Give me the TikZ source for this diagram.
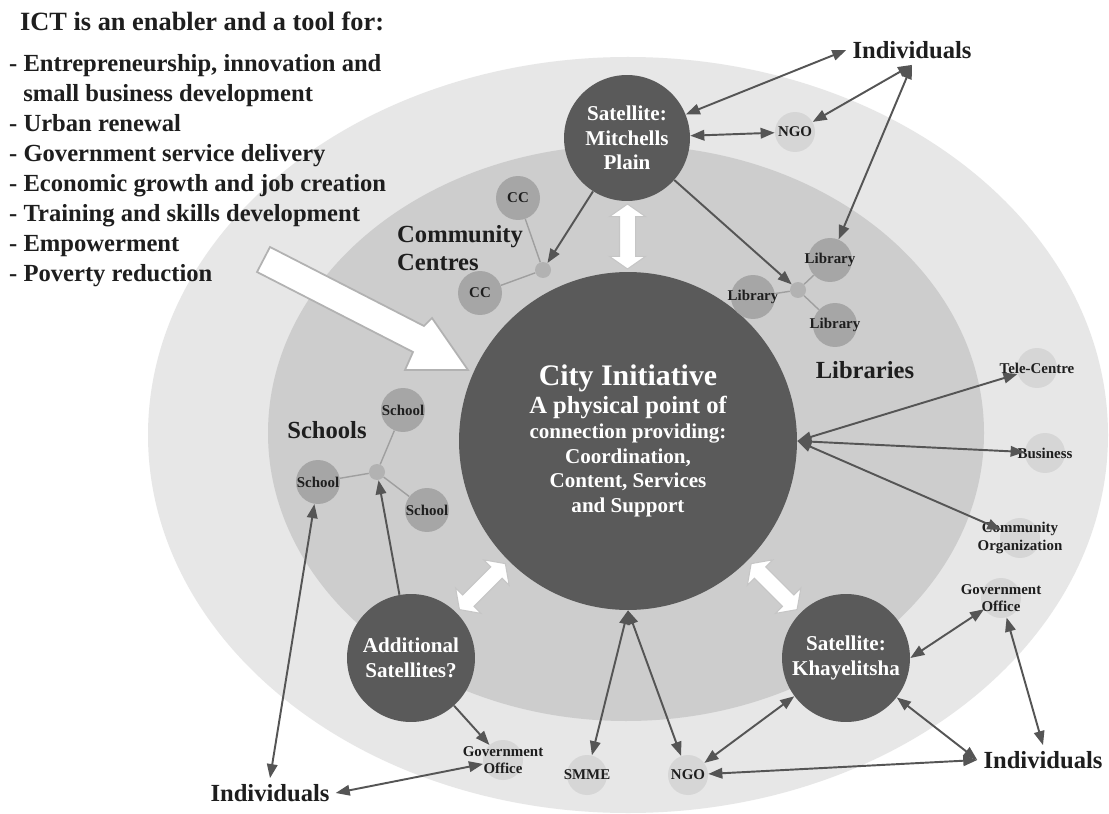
\documentclass[tikz,border=0pt]{standalone}
\usepackage{fontspec}
\setmainfont{Liberation Serif}
\usetikzlibrary{arrows.meta,shapes.arrows,calc}

\definecolor{ringout}{RGB}{231,231,231}
\definecolor{ringin}{RGB}{205,205,205}
\definecolor{discgray}{RGB}{90,90,90}
\definecolor{membergray}{RGB}{166,166,166}
\definecolor{partnergray}{RGB}{214,214,214}
\definecolor{hubgray}{RGB}{178,178,178}
\definecolor{linkgray}{RGB}{85,85,85}
\definecolor{inkgray}{RGB}{30,30,30}

\begin{document}
\begin{tikzpicture}[
        x=0.02cm, y=-0.02cm,
        disc/.style={
            circle,
            fill=discgray,
            text=white,
            inner sep=0pt,
            align=center,
            font=\fontsize{12}{14}\selectfont\bfseries
        },
        member/.style={
            circle,
            fill=membergray,
            minimum size=0.88cm,
            inner sep=0pt
        },
        partner/.style={
            circle,
            fill=partnergray,
            minimum size=0.8cm,
            inner sep=0pt
        },
        hub/.style={
            circle,
            fill=hubgray,
            minimum size=0.32cm,
            inner sep=0pt
        },
        tag/.style={
            text=inkgray,
            align=center,
            font=\fontsize{8.5}{10}\selectfont\bfseries
        },
        group/.style={
            text=inkgray,
            align=left,
            font=\fontsize{14}{16}\selectfont\bfseries
        },
        spoke/.style={
            draw=gray!75,
            line width=0.8pt
        },
        link/.style={
            {Triangle[length=8pt,width=6pt]}-{Triangle[length=8pt,width=6pt]},
            draw=linkgray,
            line width=1.1pt
        },
        feed/.style={
            -{Triangle[length=8pt,width=6pt]},
            draw=linkgray,
            line width=1.1pt
        },
        gate/.style={
            double arrow,
            fill=white,
            draw=gray!45,
            line width=0.6pt,
            minimum height=1.3cm,
            inner xsep=0pt,
            inner ysep=0.15cm,
            double arrow head extend=0.2cm,
            double arrow tip angle=110
        }
    ]

    \useasboundingbox (0,0) rectangle (1109,814);
    \fill[white] (0,0) rectangle (1109,814);

    % rings
    \fill[ringout] (628,435) ellipse [x radius=480, y radius=378];
    \fill[ringin] (626,433) ellipse [x radius=358, y radius=288];

    % heading and list
    \node[anchor=base west, text=inkgray, font=\fontsize{15}{17}\selectfont\bfseries]
        (head) at (14,31) {ICT is an enabler and a tool for:};
    \node[anchor=north west, text=inkgray, align=left,
          font=\fontsize{14}{17.1}\selectfont\bfseries] (list) at (3,48)
        {- Entrepreneurship, innovation and\\
         \hspace*{8pt}small business development\\
         - Urban renewal\\
         - Government service delivery\\
         - Economic growth and job creation\\
         - Training and skills development\\
         - Empowerment\\
         - Poverty reduction};

    % pointer into the centre
    \draw[fill=white, draw=gray!60, line width=1pt]
        (270,247) -- (424,326) -- (432,318) -- (468,370) -- (405,370)
        -- (413,352) -- (257,272) -- cycle;

    % centre and satellites
    \node[disc, minimum size=6.76cm] (city) at (628,441)
        {{\fontsize{17}{22}\selectfont City Initiative}\\[2pt]
         \fontsize{14}{17}\selectfont A physical point of\\
         connection providing:\\
         Coordination,\\
         Content, Services\\
         and Support};
    \node[disc, minimum size=2.52cm] (mitch) at (627,138) {Satellite:\\Mitchells\\Plain};
    \node[disc, minimum size=2.56cm] (addsat) at (411,658) {Additional\\Satellites?};
    \node[disc, minimum size=2.56cm] (khaye) at (846,658) {Satellite:\\Khayelitsha};

    % community centres
    \node[hub] (ccHub) at (543,270) {};
    \node[member, label={[tag]center:CC}] (ccA) at (518,198) {};
    \node[member, label={[tag]center:CC}] (ccB) at (480,293) {};
    \draw[spoke] (ccHub) -- (ccA);
    \draw[spoke] (ccHub) -- (ccB);
    \node[group, anchor=west] (ccName) at (391,248) {Community\\Centres};

    % libraries
    \node[hub] (libHub) at (798,290) {};
    \node[member, label={[tag]center:Library}] (libA) at (830,260) {};
    \node[member, label={[tag]center:Library}] (libB) at (753,297) {};
    \node[member, label={[tag]center:Library}] (libC) at (835,325) {};
    \draw[spoke] (libHub) -- (libA);
    \draw[spoke] (libHub) -- (libB);
    \draw[spoke] (libHub) -- (libC);
    \node[group] (libName) at (865,370) {Libraries};

    % schools
    \node[hub] (schHub) at (377,472) {};
    \node[member, label={[tag]center:School}] (schA) at (403,410) {};
    \node[member, label={[tag]center:School}] (schB) at (318,482) {};
    \node[member, label={[tag]center:School}] (schC) at (427,510) {};
    \draw[spoke] (schHub) -- (schA);
    \draw[spoke] (schHub) -- (schB);
    \draw[spoke] (schHub) -- (schC);
    \node[group] (schName) at (327,430) {Schools};

    % outer partners
    \node[partner, label={[tag]center:NGO}] (ngoTop) at (795,132) {};
    \node[partner, label={[tag]center:Tele-Centre}] (tele) at (1037,368) {};
    \node[partner, label={[tag]center:Business}] (business) at (1045,453) {};
    \node[partner, label={[tag]center:Community\\Organization}] (commorg) at (1020,538) {};
    \node[partner, label={[tag]center:Government\\Office}] (govR) at (1001,598) {};
    \node[partner, label={[tag]center:NGO}] (ngoBot) at (688,775) {};
    \node[partner, label={[tag]center:SMME}] (smme) at (587,775) {};
    \node[partner, label={[tag]center:Government\\Office}] (govL) at (503,760) {};

    \node[group] (indTop) at (912,50) {Individuals};
    \node[group] (indBR) at (1043,760) {Individuals};
    \node[group] (indBL) at (270,793) {Individuals};

    % white links to the centre
    \node[gate, rotate=90] (gateTop) at ($(mitch.south)!0.5!(city.north)$) {};
    \node[gate, rotate=45] (gateLeft) at ($(addsat.north east)!0.5!(city.south west)$) {};
    \node[gate, rotate=-45] (gateRight) at ($(khaye.north west)!0.5!(city.south east)$) {};

    % arrows
    \draw[link] (mitch) -- (indTop.west);
    \draw[link] (mitch) -- (ngoTop);
    \draw[link] (ngoTop) -- (indTop.south);
    \draw[link] (libA) -- (indTop.south);
    \draw[feed] (mitch) -- (ccHub);
    \draw[feed] (mitch) -- (libHub);
    \draw[feed] (addsat) -- (schHub);
    \draw[feed] (addsat) -- (govL);
    \draw[link] (schB) -- (indBL.north);
    \draw[link] (govL) -- (indBL.east);
    \draw[link] (city.south) -- (smme);
    \draw[link] (city.south) -- (ngoBot);
    \draw[link] (ngoBot) -- (khaye);
    \draw[link] (ngoBot) -- (indBR.west);
    \draw[link] (khaye) -- (indBR.west);
    \draw[link] (khaye.east) -- (govR);
    \draw[link] (govR) -- (indBR.north);
    \draw[link] (city.east) -- (tele);
    \draw[link] (city.east) -- (business);
    \draw[link] (city.east) -- (commorg);

\end{tikzpicture}
\end{document}
